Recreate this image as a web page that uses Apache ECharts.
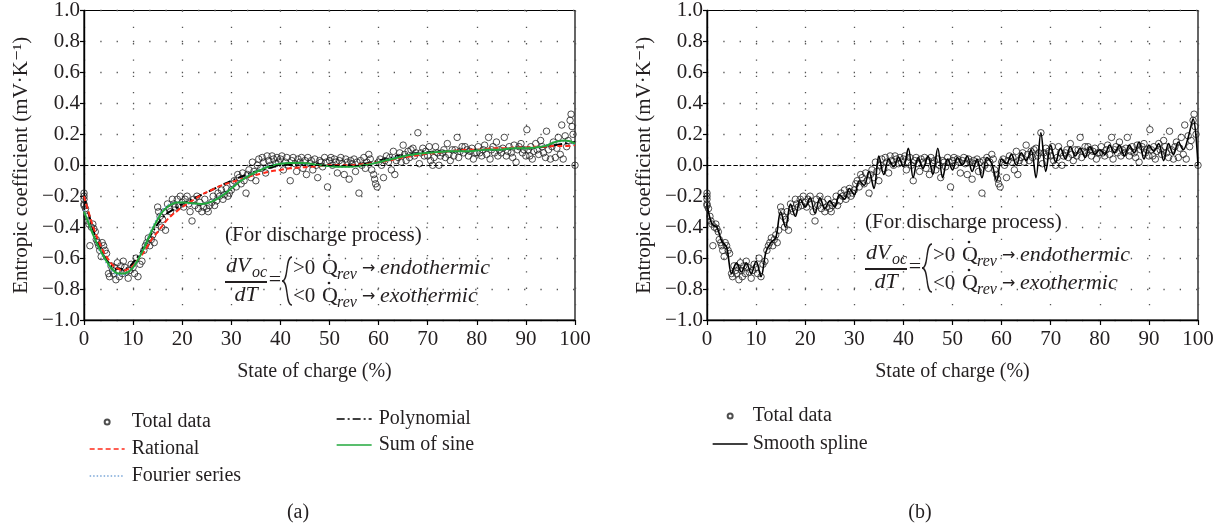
<!DOCTYPE html>
<html>
<head>
<meta charset="utf-8">
<script src="https://cdn.jsdelivr.net/npm/echarts@6/dist/echarts.min.js"></script>
<style>
html, body { margin: 0; padding: 0; background: #fff; }
#main { width: 1231px; height: 530px; }
</style>
</head>
<body>
<div id="main"></div>
<script>
var FONT = '"Liberation Serif", "DejaVu Serif", serif';
var INK = '#231f20';

// measured entropic coefficient: [state of charge %, mV/K]
var totalData = [
  [0,-0.18],[0,-0.2],[0,-0.22],[0,-0.25],[0,-0.26],[0.3,-0.28],[0.6,-0.33],[0.8,-0.36],[1,-0.38],[1.2,-0.52],
  [1.5,-0.4],[1.8,-0.38],[2,-0.41],[2.3,-0.43],[2.5,-0.48],[2.8,-0.5],[3,-0.52],[3.2,-0.55],[3.5,-0.59],[3.7,-0.5],
  [4,-0.52],[4.3,-0.55],[4.6,-0.57],
  [5,-0.7],[5.2,-0.72],[5.5,-0.65],[5.8,-0.68],[6,-0.7],[6.2,-0.66],[6.5,-0.74],[6.8,-0.63],[7,-0.68],[7.2,-0.72],
  [7.5,-0.65],[7.8,-0.7],[8,-0.62],[8.3,-0.66],[8.6,-0.69],[9,-0.73],[9.3,-0.68],[9.6,-0.64],[10,-0.66],[10.3,-0.7],
  [10.6,-0.6],[11,-0.72],[11.4,-0.64],[11.8,-0.62],
  [12.2,-0.55],[12.5,-0.52],[12.8,-0.5],[13.1,-0.47],[13.4,-0.52],[13.7,-0.48],[14,-0.45],[14.3,-0.5],[14.6,-0.42],
  [15,-0.27],[15.2,-0.3],[15.5,-0.33],[15.8,-0.4],[16,-0.35],[16.3,-0.3],[16.6,-0.42],[17,-0.25],[17.3,-0.28],
  [17.6,-0.3],[18,-0.22],[18.3,-0.25],[18.6,-0.27],[19,-0.22],[19.3,-0.26],[19.6,-0.2],[20,-0.24],
  [20.3,-0.27],[20.6,-0.22],[21,-0.2],[21.3,-0.25],[21.6,-0.3],[22,-0.36],[22.3,-0.22],[22.6,-0.26],[23,-0.2],
  [23.3,-0.28],[23.6,-0.24],[24,-0.3],[24.3,-0.27],[24.6,-0.22],[25,-0.28],[25.3,-0.3],[25.6,-0.26],
  [26,-0.24],[26.3,-0.2],[26.6,-0.26],[27,-0.23],[27.3,-0.18],[27.6,-0.2],[28,-0.16],[28.3,-0.22],[28.6,-0.19],
  [29,-0.15],[29.3,-0.2],[29.6,-0.18],[30,-0.16],
  [30.3,-0.12],[30.6,-0.1],[31,-0.14],[31.3,-0.06],[31.6,-0.08],[32,-0.12],[32.3,-0.05],[32.6,-0.1],[33,-0.18],
  [33.3,-0.06],[33.6,-0.03],[34,-0.08],[34.3,0.02],[34.6,-0.04],[35,-0.1],
  [35.3,0],[35.6,0.04],[36,-0.02],[36.3,0.05],[36.6,0.02],[37,-0.05],[37.3,0.06],[37.6,0.03],[38,0],[38.3,0.06],
  [38.6,0.04],[39,0.01],[39.3,0.05],[39.6,0.02],[40,0.04],
  [40.3,0.06],[40.6,-0.03],[41,0.02],[41.3,0.05],[41.6,0],[42,-0.1],[42.3,0.03],[42.6,0.05],[43,0.01],[43.3,-0.04],
  [43.6,0.04],[44,0.02],[44.3,0.05],[44.6,-0.02],[45,0.03],
  [45.3,-0.06],[45.6,0.05],[46,0.01],[46.3,0.03],[46.6,-0.03],[47,0.04],[47.3,0],[47.6,-0.08],[48,0.03],[48.3,0.02],
  [48.6,-0.01],[49,0.05],[49.3,0.02],[49.6,-0.14],[50,0.03],
  [50.3,0.05],[50.6,0],[51,0.04],[51.3,0.02],[51.6,-0.05],[52,0.03],[52.3,0.05],[52.6,0.01],[53,-0.06],[53.3,0.04],
  [53.6,0.02],[54,-0.09],[54.3,0.03],[54.6,0.01],[55,0.04],
  [55.3,-0.04],[55.6,0.02],[56,-0.18],[56.3,0.03],[56.6,0],[57,0.05],[57.3,-0.02],[57.6,0.02],[58,0.07],[58.3,0.04],
  [58.6,-0.03],[59,-0.06],[59.2,-0.09],[59.4,-0.12],[59.7,-0.14],[60,0.02],
  [60.3,0.04],[60.6,0],[61,-0.08],[61.3,0.03],[61.6,0.06],[62,0.02],[62.3,0.05],[62.6,-0.03],[63,0.09],[63.3,-0.06],
  [63.6,0.03],[64,0.05],[64.3,0.08],[64.6,0.02],[65,0.13],
  [65.3,0.07],[65.6,0.03],[66,0.09],[66.3,0.05],[66.6,0.1],[67,0.11],[67.3,0.06],[67.6,0.08],[68,0.21],[68.3,0.01],
  [68.6,0.08],[69,0.11],[69.3,0.06],[69.6,0.09],[70,0.06],
  [70.3,0.12],[70.6,0.03],[71,0],[71.3,0.05],[71.6,0.12],[72,0.08],[72.3,0],[72.6,0.06],[73,0.08],[73.3,0.1],
  [73.6,0.05],[74,0.14],[74.3,0.07],[74.6,0.03],[75,0.1],
  [75.3,0.06],[75.6,0.1],[76,0.18],[76.3,0.05],[76.6,0.09],[77,0.12],[77.3,0.08],[77.6,0.12],[78,0.1],[78.3,0.06],
  [78.6,0.09],[79,0.11],[79.3,0.04],[79.6,0.08],[80,0.08],
  [80.3,0.12],[80.6,0.08],[81,0.06],[81.3,0.1],[81.6,0.13],[82,0.07],[82.4,0.18],[82.7,0.04],[83,0.1],[83.3,0.12],
  [83.6,0.08],[84,0.15],[84.3,0.06],[84.6,0.1],[85,0.08],
  [85.3,0.11],[85.6,0.18],[86,0.06],[86.3,0.09],[86.6,0.12],[87,0.08],[87.3,0.05],[87.6,0.13],[88,0.02],[88.3,0.1],
  [88.6,0.12],[89,0.14],[89.3,0.08],[89.6,0.1],[90,0.06],
  [90.2,0.23],[90.5,0.1],[90.8,0.06],[91,0.12],[91.3,0.04],[91.6,0.09],[92,0.14],[92.3,0.1],[92.6,0.07],[93,0.16],
  [93.3,0.12],[93.6,0.08],[94,0.05],[94.2,0.22],[94.6,0.1],
  [95,0.04],[95.3,0.12],[95.6,0.15],[96,0.05],[96.3,0.11],[96.6,0.18],[97,0.07],[97.3,0.26],[97.6,0.04],[98,0.19],
  [98.3,0.12],[98.6,0.16],[99,0.29],[99.2,0.33],[99.4,0.25],[99.6,0.2],[100,0]
];

// fitted curves of panel (a), sampled on fitSoc
var fitSoc = [0,1,2,3,4,5,6,7,8,9,10,11,12,13,14,15,16,17,18,19,20,
  22,24,26,28,30,32,34,36,38,40,42,44,46,48,50,52,54,56,58,60,
  62,64,66,68,70,72,74,76,78,80,82,84,86,88,90,92,94,96,98,100];
var rationalFit = [-0.2,-0.31,-0.41,-0.49,-0.56,-0.61,-0.65,-0.67,-0.68,-0.67,-0.65,-0.61,-0.57,-0.52,-0.47,-0.43,-0.39,-0.35,-0.32,-0.295,-0.27,
  -0.23,-0.19,-0.16,-0.13,-0.11,-0.09,-0.07,-0.055,-0.04,-0.03,-0.02,-0.015,-0.01,-0.005,0,0,0,0.005,0.01,0.02,
  0.03,0.045,0.055,0.065,0.075,0.08,0.09,0.095,0.1,0.1,0.105,0.11,0.11,0.115,0.115,0.12,0.12,0.125,0.125,0.13];
var fourierFit = [-0.29,-0.38,-0.46,-0.54,-0.6,-0.65,-0.69,-0.71,-0.71,-0.69,-0.66,-0.61,-0.54,-0.47,-0.4,-0.34,-0.29,-0.26,-0.245,-0.24,-0.24,
  -0.25,-0.25,-0.23,-0.195,-0.145,-0.095,-0.055,-0.025,0,0.01,0.015,0.01,0.005,0,-0.005,-0.01,-0.01,-0.005,0.005,0.02,
  0.04,0.055,0.065,0.075,0.08,0.085,0.09,0.09,0.09,0.095,0.1,0.1,0.105,0.11,0.11,0.115,0.13,0.15,0.155,0.13];
var polynomialFit = [-0.2,-0.32,-0.43,-0.52,-0.58,-0.63,-0.66,-0.67,-0.67,-0.66,-0.63,-0.59,-0.54,-0.48,-0.43,-0.38,-0.34,-0.31,-0.29,-0.27,-0.25,
  -0.22,-0.19,-0.16,-0.13,-0.1,-0.075,-0.05,-0.03,-0.015,0,0.005,0.01,0.01,0.005,0,0,0,0.005,0.015,0.03,
  0.045,0.06,0.07,0.08,0.085,0.09,0.09,0.095,0.095,0.1,0.1,0.1,0.105,0.11,0.11,0.115,0.12,0.13,0.14,0.15];
var sineFit = [-0.3,-0.38,-0.46,-0.53,-0.59,-0.64,-0.68,-0.7,-0.7,-0.69,-0.66,-0.61,-0.55,-0.48,-0.41,-0.35,-0.3,-0.27,-0.25,-0.24,-0.24,
  -0.245,-0.25,-0.235,-0.2,-0.15,-0.1,-0.06,-0.03,-0.005,0.01,0.015,0.015,0.01,0,-0.005,-0.01,-0.01,-0.005,0.005,0.02,
  0.035,0.05,0.065,0.075,0.08,0.085,0.09,0.09,0.09,0.095,0.1,0.1,0.105,0.11,0.11,0.115,0.125,0.15,0.16,0.14];

// smoothing spline of panel (b), one value per 1 % SOC
var splineVals = [-0.25,-0.38,-0.4,-0.49,-0.53,-0.7,-0.63,-0.69,-0.63,-0.7,-0.62,-0.72,-0.56,-0.5,-0.47,-0.3,-0.4,-0.25,-0.33,-0.22,
  -0.27,-0.21,-0.31,-0.21,-0.28,-0.23,-0.27,-0.19,-0.22,-0.15,-0.19,-0.1,-0.13,-0.04,-0.15,0.06,-0.06,0.04,-0.01,0.05,
  -0.01,0.11,-0.08,0.05,-0.02,0.06,-0.06,0.11,-0.08,0.04,-0.03,0.05,0,0.06,-0.04,0.04,-0.08,0.05,0.01,-0.1,
  0.04,0.01,0.07,0,0.08,0.03,0.1,-0.08,0.21,-0.04,0.13,0.02,0.11,0.04,0.12,0.06,0.11,0.05,0.12,0.07,
  0.1,0.07,0.13,0.08,0.13,0.06,0.13,0.08,0.15,0.04,0.13,0.09,0.14,0.03,0.14,0.07,0.15,0.1,0.18,0.3,0];

var xTicks = [0,10,20,30,40,50,60,70,80,90,100];

function pairs(xs, ys) {
  return ys.map(function (y, i) { return [xs[i], y]; });
}
var splineSoc = splineVals.map(function (v, i) { return i; });

function yFmt(v) {
  if (Math.abs(v) < 1e-9) return '0.0';
  return (v < 0 ? '\u2212' : '') + Math.abs(v).toFixed(1);
}

function xAxisCfg(idx, shift) {
  return {
    gridIndex: idx, type: 'value', min: xTicks[0], max: xTicks[xTicks.length - 1], interval: 10,
    name: 'State of charge (%)', nameLocation: 'middle', nameGap: 42,
    nameTextStyle: { fontFamily: FONT, fontSize: 20, color: INK, padding: shift ? [0, shift, 0, 0] : 0 },
    axisLine: { onZero: false, lineStyle: { color: '#000', width: 1.4 } },
    axisTick: { length: 5, lineStyle: { color: '#000', width: 1.2 } },
    axisLabel: { margin: 9, fontFamily: FONT, fontSize: 21, color: INK },
    splitLine: { show: true, lineStyle: { color: '#555', width: 1.3, type: [1.3, 15] } }
  };
}
function yAxisCfg(idx) {
  return {
    gridIndex: idx, type: 'value', min: -1, max: 1, interval: 0.2,
    name: 'Entropic coefficient (mV\u00b7K\u207b\u00b9)', nameLocation: 'middle', nameGap: 52,
    nameTextStyle: { fontFamily: FONT, fontSize: 21, color: INK },
    axisLine: { onZero: false, lineStyle: { color: '#000', width: 1.4 } },
    axisTick: { length: 4, lineStyle: { color: '#000', width: 1.2 } },
    axisLabel: { margin: 4, fontFamily: FONT, fontSize: 21, color: INK, formatter: yFmt },
    splitLine: { show: true, lineStyle: { color: '#555', width: 1.3, type: [1.3, 15] } }
  };
}

function zeroLine() {
  return {
    silent: true, symbol: 'none', label: { show: false },
    lineStyle: { color: '#000', width: 1.1, type: 'dashed' },
    data: [{ yAxis: 0 }]
  };
}
var dots = { color: 'rgba(0,0,0,0)', borderColor: '#222', borderWidth: 1 };
var noMark = { opacity: 0 };

function legendCfg(names, left, top, gap, pad) {
  return {
    data: names, orient: 'vertical', left: left, top: top, itemGap: gap,
    itemWidth: 35, itemHeight: 5, selectedMode: false,
    lineStyle: { width: 1.3 },
    textStyle: { fontFamily: FONT, fontSize: 20, color: INK, lineHeight: 22, padding: [0, 0, 0, pad] }
  };
}

function label(x, y, s, size, italic, align, family) {
  return {
    type: 'text', x: x, y: y, silent: true,
    style: {
      text: s, fontFamily: family || FONT, fontSize: size, fontStyle: italic ? 'italic' : 'normal',
      fill: INK, textAlign: align || 'left', textVerticalAlign: 'middle'
    }
  };
}
function qDot(x, y) {
  return { type: 'circle', silent: true, shape: { cx: x, cy: y, r: 1.3 }, style: { fill: INK } };
}
function curve(x1, y1, c1x, c1y, c2x, c2y, x2, y2) {
  return {
    type: 'bezierCurve', silent: true,
    shape: { x1: x1, y1: y1, cpx1: c1x, cpy1: c1y, cpx2: c2x, cpy2: c2y, x2: x2, y2: y2 },
    style: { stroke: INK, fill: null, lineWidth: 1.4 }
  };
}
function annotation(ox, oy) {
  var els = [
    label(ox, oy, '(For discharge process)', 21),
    label(ox + 1, oy + 31, 'dV', 22, true),
    label(ox + 27, oy + 38, 'oc', 16, true),
    { type: 'rect', silent: true, shape: { x: ox, y: oy + 46, width: 42, height: 2 }, style: { fill: INK } },
    label(ox + 21, oy + 60, 'dT', 22, true, 'center'),
    label(ox + 50, oy + 45, '=', 22, false, 'center'),
    curve(ox + 67, oy + 22, ox + 60, oy + 22, ox + 64, oy + 46, ox + 57, oy + 46),
    curve(ox + 57, oy + 46, ox + 64, oy + 46, ox + 60, oy + 70, ox + 67, oy + 70)
  ];
  var rows = [[oy + 33, '>0', 'endothermic'], [oy + 61, '<0', 'exothermic']];
  rows.forEach(function (r) {
    els.push(label(ox + 68, r[0], r[1], 21));
    els.push(label(ox + 97, r[0], 'Q', 22));
    els.push(qDot(ox + 104, r[0] - 13));
    els.push(label(ox + 112, r[0] + 7, 'rev', 16, true));
    els.push(label(ox + 137, r[0] + 1, '\u2192', 16, false, 'left', '"DejaVu Sans"'));
    els.push(label(ox + 155, r[0], r[2], 22, true));
  });
  return els;
}

var myChart = echarts.init(document.getElementById('main'));

var option = {
  backgroundColor: '#fff',
  animation: false,
  grid: [
    { left: 84, top: 8, width: 491, height: 312, show: true, borderColor: '#000', borderWidth: 1.2 },
    { left: 707, top: 8, width: 491, height: 312, show: true, borderColor: '#000', borderWidth: 1.2 }
  ],
  xAxis: [xAxisCfg(0, 30), xAxisCfg(1, 0)],
  yAxis: [yAxisCfg(0), yAxisCfg(1)],
  legend: [
    legendCfg(['Total data', 'Rational', 'Fourier series'], 84, 406, 5, 2),
    legendCfg(['Polynomial', 'Sum of sine'], 331, 403, 4, 2),
    legendCfg(['Total data', 'Smooth spline'], 707, 400, 6, 0)
  ],
  graphic: annotation(225, 235).concat(annotation(865, 222)).concat([
    label(298, 513, '(a)', 20, false, 'center'),
    label(920, 513, '(b)', 20, false, 'center')
  ]),
  series: [
    {
      name: 'Total data', type: 'scatter', xAxisIndex: 0, yAxisIndex: 0,
      data: totalData, symbol: 'circle', symbolSize: 6.5, itemStyle: dots, markLine: zeroLine()
    },
    {
      name: 'Polynomial', type: 'line', xAxisIndex: 0, yAxisIndex: 0, smooth: true, symbol: 'none',
      data: pairs(fitSoc, polynomialFit), itemStyle: noMark,
      lineStyle: { color: '#000', width: 2, type: [8, 3, 2, 3] }
    },
    {
      name: 'Rational', type: 'line', xAxisIndex: 0, yAxisIndex: 0, smooth: true, symbol: 'none',
      data: pairs(fitSoc, rationalFit), itemStyle: noMark,
      lineStyle: { color: '#ff2a1a', width: 2, type: [5, 3] }
    },
    {
      name: 'Fourier series', type: 'line', xAxisIndex: 0, yAxisIndex: 0, smooth: true, symbol: 'none',
      data: pairs(fitSoc, fourierFit), itemStyle: noMark,
      lineStyle: { color: '#7aa6d8', width: 2, type: [1.5, 2] }
    },
    {
      name: 'Sum of sine', type: 'line', xAxisIndex: 0, yAxisIndex: 0, smooth: true, symbol: 'none',
      data: pairs(fitSoc, sineFit), itemStyle: noMark,
      lineStyle: { color: '#22a83c', width: 2 }
    },
    {
      name: 'Total data', type: 'scatter', xAxisIndex: 1, yAxisIndex: 1,
      data: totalData, symbol: 'circle', symbolSize: 6.5, itemStyle: dots, markLine: zeroLine()
    },
    {
      name: 'Smooth spline', type: 'line', xAxisIndex: 1, yAxisIndex: 1, smooth: 0.35, symbol: 'none',
      data: pairs(splineSoc, splineVals), itemStyle: noMark,
      lineStyle: { color: '#000', width: 1.6 }
    }
  ]
};

myChart.setOption(option);
</script>
</body>
</html>
